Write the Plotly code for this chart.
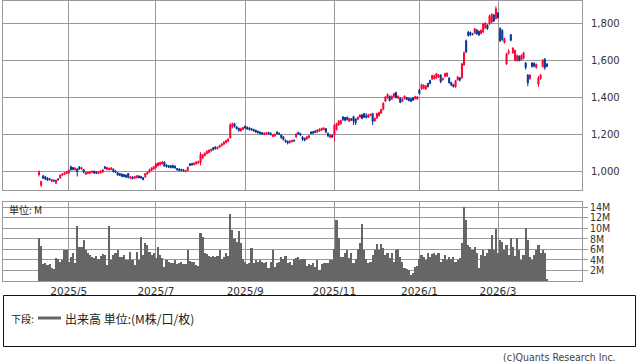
import pandas as pd
import plotly.graph_objects as go

# ---- data -------------------------------------------------------------
holidays = ["2025-04-29", "2025-05-05", "2025-05-06", "2025-07-21", "2025-08-11",
            "2025-09-15", "2025-09-23", "2025-10-13", "2025-11-03", "2025-11-24",
            "2025-12-31", "2026-01-01", "2026-01-02", "2026-01-12", "2026-02-11",
            "2026-02-23", "2026-03-20"]
dates = [d.strftime("%Y-%m-%d") for d in
         pd.bdate_range("2025-04-10", "2026-04-03", freq="C", holidays=holidays)]

opens = [982, 925, 975, 970, 964, 960, 946, 952, 936, 958,
         964, 978, 984, 988, 990, 1025, 1020, 1008, 1012, 1024,
         1012, 1010, 984, 988, 990, 994, 1000, 998, 988, 992,
         996, 1024, 1010, 1008, 1010, 1012, 1002, 992, 988, 985,
         982, 980, 988, 962, 970, 962, 965, 975, 972, 966,
         970, 985, 995, 1005, 1012, 1020, 1030, 1035, 1040, 1050,
         1035, 1030, 1030, 1032, 1028, 1015, 1012, 1010, 1008, 998,
         1005, 1040, 1042, 1036, 1040, 1045, 1048, 1072, 1085, 1096,
         1102, 1110, 1128, 1132, 1122, 1130, 1138, 1146, 1155, 1162,
         1180, 1238, 1258, 1240, 1232, 1218, 1226, 1244, 1238, 1234,
         1230, 1226, 1222, 1216, 1212, 1208, 1198, 1200, 1210, 1206,
         1188, 1192, 1212, 1206, 1196, 1186, 1168, 1162, 1156, 1160,
         1168, 1185, 1210, 1204, 1186, 1178, 1175, 1182, 1212, 1214,
         1218, 1212, 1218, 1222, 1226, 1230, 1205, 1185, 1195, 1198,
         1225, 1250, 1258, 1294, 1290, 1292, 1270, 1284, 1296, 1282,
         1280, 1292, 1305, 1312, 1300, 1292, 1302, 1312, 1272, 1288,
         1300, 1315, 1335, 1378, 1396, 1404, 1390, 1404, 1426, 1395,
         1396, 1378, 1392, 1398, 1394, 1392, 1396, 1392, 1390, 1440,
         1445, 1448, 1445, 1475, 1490, 1498, 1500, 1504, 1510, 1520,
         1494, 1512, 1515, 1504, 1480, 1468, 1456, 1494, 1505, 1505,
         1575, 1705, 1752, 1750, 1742, 1746, 1764, 1756, 1745, 1752,
         1774, 1790, 1795, 1805, 1845, 1825, 1855, 1772, 1760, 1696,
         1580, 1640, 1738, 1640, 1600, 1598, 1622, 1602, 1610, 1585,
         1520, 1500, 1585, 1584, 1560, 1470, 1500, 1566, 1605, 1580]
closes = [995, 945, 962, 958, 952, 955, 955, 948, 952, 954,
          980, 986, 992, 998, 1006, 1008, 1010, 1018, 998, 1012,
          1020, 995, 994, 996, 998, 1000, 990, 990, 996, 1002,
          1008, 1015, 1020, 1016, 1018, 998, 994, 980, 978, 972,
          972, 968, 968, 970, 960, 972, 976, 966, 964, 955,
          988, 995, 1010, 1018, 1025, 1040, 1045, 1048, 1050, 1028,
          1025, 1022, 1020, 1020, 1018, 1008, 1005, 1004, 1002, 1004,
          1022, 1032, 1035, 1044, 1050, 1052, 1092, 1088, 1098, 1108,
          1114, 1118, 1116, 1122, 1130, 1140, 1148, 1158, 1166, 1174,
          1250, 1256, 1242, 1230, 1220, 1230, 1236, 1234, 1228, 1226,
          1222, 1218, 1212, 1208, 1204, 1202, 1206, 1208, 1202, 1198,
          1198, 1200, 1204, 1200, 1182, 1172, 1160, 1152, 1164, 1166,
          1164, 1200, 1202, 1196, 1172, 1168, 1186, 1192, 1204, 1206,
          1210, 1224, 1228, 1232, 1234, 1212, 1192, 1195, 1185, 1248,
          1258, 1272, 1274, 1280, 1276, 1280, 1285, 1276, 1270, 1262,
          1292, 1304, 1285, 1292, 1290, 1306, 1308, 1270, 1286, 1312,
          1318, 1334, 1368, 1402, 1416, 1382, 1406, 1420, 1398, 1405,
          1372, 1390, 1406, 1388, 1382, 1378, 1384, 1404, 1402, 1420,
          1468, 1465, 1460, 1458, 1474, 1518, 1516, 1528, 1520, 1484,
          1502, 1528, 1530, 1478, 1466, 1458, 1490, 1510, 1492, 1580,
          1640, 1645, 1734, 1736, 1740, 1770, 1742, 1736, 1762, 1796,
          1800, 1770, 1840, 1848, 1812, 1878, 1830, 1705, 1712, 1716,
          1636, 1648, 1708, 1665, 1652, 1625, 1600, 1626, 1640, 1560,
          1478, 1520, 1566, 1568, 1578, 1505, 1520, 1600, 1560, 1568]
highs = [1005, 950, 980, 975, 968, 964, 958, 956, 954, 962,
         982, 990, 995, 1002, 1010, 1030, 1024, 1022, 1016, 1028,
         1024, 1012, 998, 999, 1002, 1004, 1004, 1000, 999, 1005,
         1012, 1028, 1024, 1020, 1022, 1015, 1005, 995, 990, 988,
         985, 982, 990, 974, 972, 975, 980, 978, 975, 968,
         990, 998, 1014, 1022, 1028, 1044, 1048, 1052, 1055, 1054,
         1038, 1034, 1033, 1035, 1030, 1018, 1016, 1014, 1012, 1008,
         1025, 1044, 1046, 1048, 1055, 1058, 1103, 1094, 1102, 1114,
         1118, 1122, 1130, 1135, 1134, 1143, 1152, 1162, 1170, 1178,
         1262, 1264, 1262, 1245, 1236, 1236, 1240, 1248, 1242, 1238,
         1234, 1230, 1225, 1220, 1216, 1212, 1210, 1212, 1214, 1210,
         1202, 1204, 1216, 1210, 1198, 1190, 1172, 1166, 1168, 1170,
         1172, 1206, 1214, 1208, 1190, 1182, 1190, 1196, 1216, 1218,
         1222, 1228, 1232, 1236, 1238, 1234, 1210, 1200, 1198, 1255,
         1262, 1276, 1278, 1298, 1294, 1296, 1290, 1288, 1300, 1286,
         1296, 1308, 1310, 1316, 1314, 1310, 1312, 1316, 1290, 1316,
         1322, 1338, 1372, 1406, 1420, 1410, 1410, 1424, 1430, 1410,
         1400, 1394, 1410, 1402, 1398, 1396, 1400, 1408, 1406, 1445,
         1474, 1470, 1466, 1478, 1495, 1522, 1522, 1532, 1526, 1524,
         1506, 1533, 1534, 1508, 1484, 1472, 1494, 1514, 1508, 1586,
         1648, 1712, 1758, 1755, 1748, 1774, 1768, 1760, 1766, 1802,
         1806, 1794, 1846, 1854, 1850, 1892, 1860, 1778, 1768, 1722,
         1640, 1660, 1742, 1670, 1658, 1630, 1626, 1632, 1645, 1590,
         1524, 1524, 1590, 1588, 1582, 1515, 1526, 1606, 1612, 1584]
lows = [972, 915, 958, 952, 948, 950, 942, 944, 932, 950,
        960, 975, 980, 985, 988, 1004, 1005, 1004, 972, 1008,
        1008, 990, 980, 985, 986, 990, 986, 986, 984, 988,
        992, 1012, 1006, 1005, 1006, 994, 990, 976, 975, 968,
        968, 964, 962, 958, 956, 958, 962, 962, 960, 952,
        966, 982, 992, 1002, 1010, 1016, 1026, 1032, 1036, 1024,
        1020, 1018, 1016, 1016, 1014, 1004, 1000, 1000, 998, 995,
        1002, 1028, 1030, 1032, 1036, 1040, 1032, 1066, 1080, 1092,
        1098, 1106, 1112, 1118, 1118, 1126, 1135, 1142, 1150, 1158,
        1178, 1232, 1236, 1226, 1214, 1214, 1222, 1230, 1224, 1220,
        1218, 1214, 1208, 1204, 1200, 1198, 1195, 1196, 1198, 1194,
        1185, 1186, 1200, 1196, 1176, 1166, 1154, 1145, 1150, 1156,
        1160, 1182, 1198, 1192, 1164, 1162, 1170, 1178, 1200, 1202,
        1206, 1208, 1214, 1218, 1222, 1206, 1184, 1178, 1180, 1162,
        1220, 1246, 1252, 1272, 1270, 1274, 1266, 1272, 1250, 1250,
        1276, 1288, 1282, 1288, 1286, 1288, 1298, 1250, 1268, 1284,
        1296, 1310, 1330, 1374, 1392, 1378, 1386, 1400, 1394, 1390,
        1368, 1374, 1388, 1384, 1378, 1374, 1380, 1388, 1386, 1415,
        1440, 1442, 1440, 1452, 1470, 1494, 1496, 1500, 1505, 1476,
        1490, 1508, 1510, 1474, 1460, 1452, 1452, 1490, 1486, 1500,
        1570, 1638, 1728, 1730, 1734, 1742, 1738, 1732, 1740, 1748,
        1770, 1764, 1790, 1800, 1806, 1820, 1825, 1698, 1705, 1690,
        1575, 1630, 1702, 1635, 1594, 1592, 1594, 1598, 1605, 1550,
        1460, 1495, 1560, 1562, 1555, 1455, 1495, 1560, 1548, 1562]
volumes_m = [8.1, 6.6, 3.2, 3.4, 3.0, 3.2, 2.4, 2.3, 4.3, 4.1,
             3.7, 3.9, 5.9, 5.8, 3.7, 4.6, 5.4, 3.5, 10.4, 6.5,
             6.4, 7.8, 5.9, 5.3, 4.9, 4.6, 4.3, 4.7, 4.1, 4.7,
             5.1, 4.9, 3.0, 10.4, 4.0, 4.9, 5.3, 5.8, 4.6, 4.5,
             4.9, 4.0, 3.9, 5.6, 4.0, 3.0, 5.6, 4.0, 8.4, 4.9,
             7.2, 6.8, 5.6, 4.9, 5.3, 4.3, 6.5, 4.9, 4.3, 2.7,
             3.9, 3.7, 3.4, 3.5, 4.0, 3.2, 3.4, 3.7, 3.2, 3.2,
             5.9, 3.8, 3.7, 3.7, 3.0, 2.8, 9.2, 8.4, 5.3, 5.1,
             4.7, 4.6, 4.7, 4.6, 4.7, 5.9, 4.1, 4.5, 5.3, 4.7,
             12.8, 9.7, 7.9, 7.5, 9.4, 7.2, 4.1, 3.7, 3.2, 3.4,
             6.2, 3.5, 4.0, 3.7, 4.0, 3.7, 3.4, 3.7, 2.4, 3.7,
             5.9, 2.7, 3.5, 3.7, 4.5, 4.1, 4.7, 3.4, 3.7, 3.0,
             4.1, 4.3, 4.6, 4.0, 4.1, 4.2, 2.9, 3.2, 3.0, 3.4,
             2.7, 3.9, 2.1, 3.2, 3.5, 3.5, 3.4, 4.0, 4.0, 6.0,
             11.6, 8.1, 4.5, 4.6, 5.3, 5.8, 4.3, 5.3, 3.4, 4.1,
             6.0, 7.2, 10.8, 5.9, 4.1, 3.5, 3.7, 4.9, 5.9, 7.0,
             5.9, 7.0, 6.2, 4.9, 5.4, 4.3, 5.3, 3.7, 5.9, 6.0,
             4.6, 3.7, 2.4, 2.2, 2.0, 1.1, 1.6, 2.7, 2.8, 4.1,
             4.9, 4.6, 4.0, 5.3, 4.6, 5.1, 5.4, 4.9, 5.3, 3.7,
             4.1, 4.9, 4.0, 4.5, 4.1, 4.5, 3.7, 3.9, 4.3, 7.2,
             14.0, 11.6, 6.8, 6.4, 5.9, 6.4, 5.4, 2.4, 4.9, 5.9,
             4.7, 5.3, 6.0, 8.7, 5.9, 9.8, 5.4, 7.8, 7.5, 5.9,
             6.8, 4.9, 8.1, 6.5, 4.7, 8.1, 5.9, 4.0, 4.9, 10.0,
             7.8, 4.6, 4.0, 4.9, 5.9, 6.8, 5.4, 5.9, 5.3, 0.3]

month_ticks = ["2025-05-01", "2025-07-01", "2025-09-01", "2025-11-04",
               "2026-01-05", "2026-03-02"]
month_labels = ["2025/5", "2025/7", "2025/9", "2025/11", "2026/1", "2026/3"]
price_ticks = [1000, 1200, 1400, 1600, 1800]
vol_ticks = [2, 4, 6, 8, 10, 12, 14]
vol_labels = ["2M", "4M", "6M", "8M", "10M", "12M", "14M"]

# ---- figure -----------------------------------------------------------
W, H = 638, 362
L, R, T, B = 3, 56, 1, 81
PW, PH = W - L - R, H - T - B


def xp(px):
    return (px - L) / PW


def yp(py):
    return (H - B - py) / PH


UP, DOWN, GRID, TXT = "#ff0033", "#003399", "#999999", "#333333"

fig = go.Figure()
fig.add_trace(go.Candlestick(
    x=dates, open=opens, high=highs, low=lows, close=closes,
    xaxis="x", yaxis="y",
    increasing=dict(line=dict(color=UP, width=1), fillcolor=UP),
    decreasing=dict(line=dict(color=DOWN, width=1), fillcolor=DOWN),
    whiskerwidth=0, showlegend=False, hoverinfo="skip"))
fig.add_trace(go.Bar(
    x=dates, y=volumes_m, xaxis="x2", yaxis="y2", width=1.0,
    marker=dict(color="#666666", line=dict(width=0)), showlegend=False))

xr = [-16.94, 255.5]
axis_common = dict(showgrid=True, gridcolor=GRID, gridwidth=1, showline=True,
                   mirror=True, linecolor=GRID, linewidth=1, zeroline=False)

fig.update_layout(
    width=W, height=H, margin=dict(l=L, r=R, t=T, b=B),
    paper_bgcolor="white", plot_bgcolor="white",
    font=dict(family="DejaVu Sans", size=10, color=TXT),
    bargap=0,
    xaxis=dict(type="category", range=xr, domain=[0, 1], anchor="y",
               tickvals=month_ticks, showticklabels=False, ticks="",
               rangeslider=dict(visible=False), **axis_common),
    yaxis=dict(domain=[yp(190), 1], range=[899, 1920], side="right",
               tickvals=price_ticks, tickformat=",", ticks="outside",
               ticklen=6, tickcolor="white", anchor="x",
               tickfont=dict(family="DejaVu Sans", size=10, color=TXT),
               **axis_common),
    xaxis2=dict(type="category", range=xr, domain=[0, 1], anchor="y2",
                matches="x", tickvals=month_ticks, ticktext=month_labels,
                ticks="", tickfont=dict(family="DejaVu Sans", size=10.5, color=TXT),
                **axis_common),
    yaxis2=dict(domain=[0, yp(202)], range=[0, 15.0], side="right",
                tickvals=vol_ticks, ticktext=vol_labels, ticks="outside",
                ticklen=5, tickcolor=GRID, anchor="x2",
                tickfont=dict(family="Liberation Sans Narrow, DejaVu Sans Condensed",
                              size=10.5, color=TXT),
                **axis_common),
)

# annotations / legend box
fig.add_annotation(x=xp(7), y=yp(209), xref="paper", yref="paper",
                   text="単位: M", showarrow=False, xanchor="left", yanchor="middle",
                   font=dict(family="Noto Sans CJK JP", size=10, color="#222222"))
fig.add_shape(type="rect", xref="paper", yref="paper",
              x0=xp(3.5), x1=xp(635.5), y0=yp(295.5), y1=yp(346.5),
              line=dict(color="#111111", width=1))
fig.add_annotation(x=xp(9), y=yp(318), xref="paper", yref="paper",
                   text="下段:", showarrow=False, xanchor="left", yanchor="middle",
                   font=dict(family="Noto Sans CJK JP", size=10, color="#222222"))
fig.add_shape(type="line", xref="paper", yref="paper",
              x0=xp(38), x1=xp(61), y0=yp(318), y1=yp(318),
              line=dict(color="#666666", width=3))
fig.add_annotation(x=xp(63), y=yp(318), xref="paper", yref="paper",
                   text="出来高 単位:(M株/口/枚)", showarrow=False,
                   xanchor="left", yanchor="middle",
                   font=dict(family="Noto Sans CJK JP", size=12, color="#222222"))
fig.add_annotation(x=xp(618), y=yp(357), xref="paper", yref="paper",
                   text="(c)Quants Research Inc.", showarrow=False,
                   xanchor="right", yanchor="middle",
                   font=dict(family="DejaVu Sans Condensed", size=10.5, color="#444444"))

fig.write_html("out.html")
